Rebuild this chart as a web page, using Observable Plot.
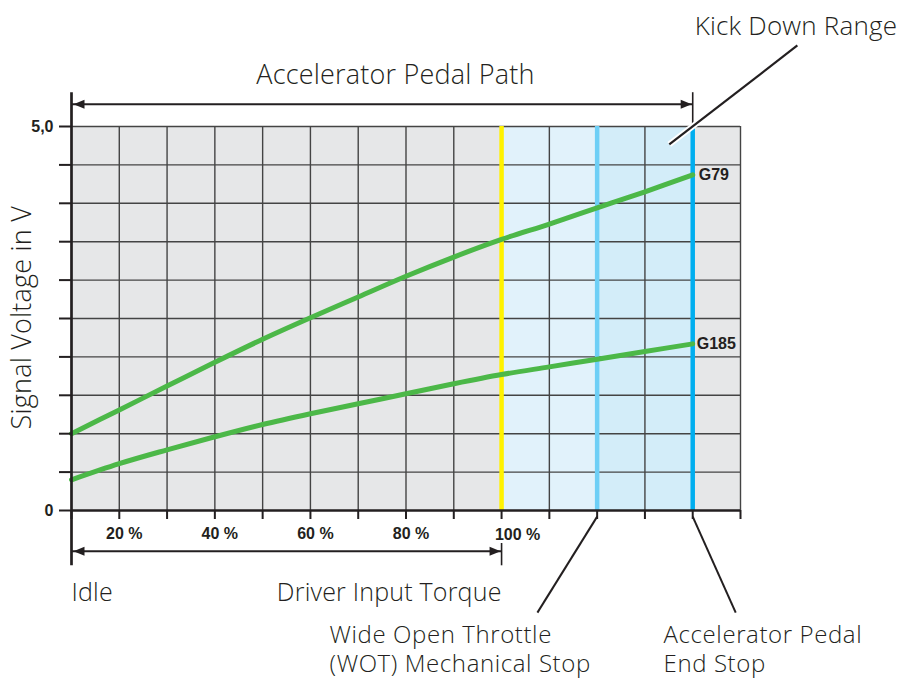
<!DOCTYPE html>
<html>
<head>
<meta charset="utf-8">
<script src="https://cdn.jsdelivr.net/npm/d3@7"></script>
<script src="https://cdn.jsdelivr.net/npm/@observablehq/plot@0.6"></script>
<style>
  body { margin: 0; background: #fff; }
  svg { display: block; }
</style>
</head>
<body>
<div id="chart"></div>
<script>
// ---- data (pedal position in grid steps, signal voltage in V) ----
const pedalSteps = [0, 1, 2, 3, 4, 5, 6, 7, 8, 9, 10, 11, 12, 13];
const g79  = [1.00, 1.31, 1.62, 1.93, 2.23, 2.51, 2.78, 3.05, 3.30, 3.53, 3.73, 3.94, 4.15, 4.37];
const g185 = [0.40, 0.61, 0.79, 0.96, 1.12, 1.26, 1.39, 1.52, 1.65, 1.77, 1.87, 1.97, 2.07, 2.17];
const seriesNames = ["G79", "G185"];

const gridSteps = [1, 2, 3, 4, 5, 6, 7, 8, 9, 10, 11, 12, 13, 14];
const pctTicks = [1, 3, 5, 7];
const pctLabels = ["20 %", "40 %", "60 %", "80 %"];
const pctFullTick = [9];
const pctFullLabel = ["100 %"];
const voltTicks = [0, 0.5, 1, 1.5, 2, 2.5, 3, 3.5, 4, 4.5, 5];
const voltLabels = ["0", "", "", "", "", "", "", "", "", "", "5,0"];

const xMax = 14, vMax = 5;
const wotStop = 9, kickStart = 11, pedalEnd = 13;

// ---- annotation anchors (data units) ----
const topBarV = 5.44, topArrowV = 5.29, topTitleV = 5.66;
const botBarTopV = -0.43, botArrowV = -0.53, botBarV = -0.72, botTextV = -1.07;
const noteV1 = -1.62, noteV2 = -2.005;

const voltMap = new Map(voltTicks.map((t, i) => [t, voltLabels[i]]));
const rows = (arr) => pedalSteps.map((x, i) => ({x, v: arr[i]}));

const ink = "#231f20";
const lightFont = "'Open Sans', Roboto, 'Liberation Sans', Arial, sans-serif";
const boldFont = "'Liberation Sans', Arial, Helvetica, sans-serif";

const tri = {
  draw(ctx, l, r) {
    ctx.moveTo(0, -l);
    ctx.lineTo(-r, 0);
    ctx.lineTo(r, 0);
    ctx.closePath();
  }
};

const bigText = {fontFamily: lightFont, fontWeight: 300, fontSize: 25, fill: ink};
const noteText = {fontFamily: lightFont, fontWeight: 300, fontSize: 24, fill: ink};

const chart = Plot.plot({
  width: 900,
  height: 678,
  marginLeft: 71,
  marginRight: 160,
  marginTop: 126,
  marginBottom: 168,
  style: {fontFamily: boldFont, color: ink, background: "#fff"},
  x: {domain: [0, xMax]},
  y: {domain: [0, vMax]},
  marks: [
    // backgrounds
    Plot.rect([0], {x1: 0, x2: xMax, y1: 0, y2: vMax, fill: "#e6e7e8"}),
    Plot.rect([0], {x1: wotStop, x2: kickStart, y1: 0, y2: vMax, fill: "#e1f2fb"}),
    Plot.rect([0], {x1: kickStart, x2: pedalEnd, y1: 0, y2: vMax, fill: "#d3edf9"}),
    // grid
    Plot.ruleX(gridSteps, {y1: 0, y2: vMax, stroke: "#444", strokeWidth: 1.4}),
    Plot.ruleY(voltTicks.filter(t => t > 0), {x1: 0, x2: xMax, stroke: "#444", strokeWidth: 1.4}),
    // stops
    Plot.ruleX([wotStop], {y1: 0, y2: vMax, stroke: "#fff200", strokeWidth: 4.5}),
    Plot.ruleX([kickStart], {y1: 0, y2: vMax, stroke: "#6dcff6", strokeWidth: 4.5}),
    Plot.ruleX([pedalEnd], {y1: 0, y2: vMax, stroke: "#00aeef", strokeWidth: 4.5}),
    // series
    Plot.line(rows(g79), {x: "x", y: "v", curve: "catmull-rom", stroke: "#4cb848", strokeWidth: 5}),
    Plot.line(rows(g185), {x: "x", y: "v", curve: "catmull-rom", stroke: "#4cb848", strokeWidth: 5}),
    Plot.text([seriesNames[0]], {x: pedalEnd, y: g79[g79.length - 1], dx: 6, textAnchor: "start",
      fontFamily: boldFont, fontWeight: "bold", fontSize: 16, fill: ink}),
    Plot.text([seriesNames[1]], {x: pedalEnd, y: g185[g185.length - 1], dx: 4, textAnchor: "start",
      fontFamily: boldFont, fontWeight: "bold", fontSize: 16, fill: ink}),
    // axes
    Plot.axisX({ticks: [0, ...gridSteps], tickSize: 9, tickFormat: () => "", strokeWidth: 2, stroke: ink, label: null}),
    Plot.axisY({ticks: voltTicks, tickSize: 12, tickPadding: 6, tickFormat: d => voltMap.get(d),
      strokeWidth: 2, stroke: ink, fontSize: 16, fontWeight: "bold", label: null}),
    Plot.ruleY([0], {x1: 0, x2: xMax, stroke: ink, strokeWidth: 2.5}),
    Plot.ruleX([0], {y1: botBarV, y2: topBarV, stroke: ink, strokeWidth: 2.7}),
    Plot.text(pctLabels, {x: (d, i) => pctTicks[i], y: 0, dy: 23, dx: 5,
      fontFamily: boldFont, fontWeight: "bold", fontSize: 16, fill: ink}),
    Plot.text(pctFullLabel, {x: (d, i) => pctFullTick[i], y: 0, dy: 24, dx: 16,
      fontFamily: boldFont, fontWeight: "bold", fontSize: 16, fill: ink}),
    // accelerator pedal path arrow
    Plot.ruleY([topArrowV], {x1: 0, x2: pedalEnd, stroke: ink, strokeWidth: 2}),
    Plot.ruleX([pedalEnd], {y1: vMax, y2: topBarV, stroke: ink, strokeWidth: 1.6}),
    Plot.vector([0], {x: 0, y: topArrowV, length: 11, r: 4.5, rotate: -90, anchor: "end", shape: tri, dx: 2, fill: ink, stroke: "none"}),
    Plot.vector([0], {x: pedalEnd, y: topArrowV, length: 11, r: 4.5, rotate: 90, anchor: "end", shape: tri, dx: -1, fill: ink, stroke: "none"}),
    Plot.text(["Accelerator Pedal Path"], {x: 6.78, y: topTitleV, ...bigText, fontSize: 27}),
    // driver input torque arrow
    Plot.ruleY([botArrowV], {x1: 0, x2: wotStop, stroke: ink, strokeWidth: 2}),
    Plot.ruleX([wotStop], {y1: botBarTopV, y2: botBarV, stroke: ink, strokeWidth: 1.6}),
    Plot.vector([0], {x: 0, y: botArrowV, length: 11, r: 4.5, rotate: -90, anchor: "end", shape: tri, dx: 2, fill: ink, stroke: "none"}),
    Plot.vector([0], {x: wotStop, y: botArrowV, length: 11, r: 4.5, rotate: 90, anchor: "end", shape: tri, dx: -1, fill: ink, stroke: "none"}),
    Plot.text(["Idle"], {x: 0, y: botTextV, textAnchor: "start", ...bigText}),
    Plot.text(["Driver Input Torque"], {x: wotStop, y: botTextV, textAnchor: "end", ...bigText}),
    // kick down leader
    Plot.link([0], {x1: 15.19, y1: 6.055, x2: 12.51, y2: 4.766, stroke: "#fff", strokeWidth: 6}),
    Plot.link([0], {x1: 15.19, y1: 6.055, x2: 12.51, y2: 4.766, stroke: ink, strokeWidth: 2.2}),
    Plot.text(["Kick Down Range"], {x: 15.16, y: 6.30, ...bigText, fontSize: 26}),
    // bottom leaders
    Plot.link([0], {x1: kickStart, y1: -0.08, x2: 9.75, y2: -1.33, stroke: ink, strokeWidth: 2}),
    Plot.link([0], {x1: pedalEnd, y1: -0.08, x2: 13.9, y2: -1.33, stroke: ink, strokeWidth: 2}),
    Plot.text(["Wide Open Throttle"], {x: 5.4, y: noteV1, textAnchor: "start", ...noteText}),
    Plot.text(["(WOT) Mechanical Stop"], {x: 5.4, y: noteV2, textAnchor: "start", ...noteText}),
    Plot.text(["Accelerator Pedal"], {x: 12.39, y: noteV1, textAnchor: "start", ...noteText}),
    Plot.text(["End Stop"], {x: 12.39, y: noteV2, textAnchor: "start", ...noteText}),
    // y title
    Plot.text(["Signal Voltage in V"], {x: -1.03, y: 2.51, rotate: -90, ...bigText, fontSize: 27})
  ]
});

d3.select(chart).selectAll('g[font-weight="300"]').attr("letter-spacing", "0.2px");
d3.select(chart).selectAll('g[font-size="24"]').attr("letter-spacing", "0.6px");
document.getElementById("chart").appendChild(chart);
</script>
</body>
</html>
